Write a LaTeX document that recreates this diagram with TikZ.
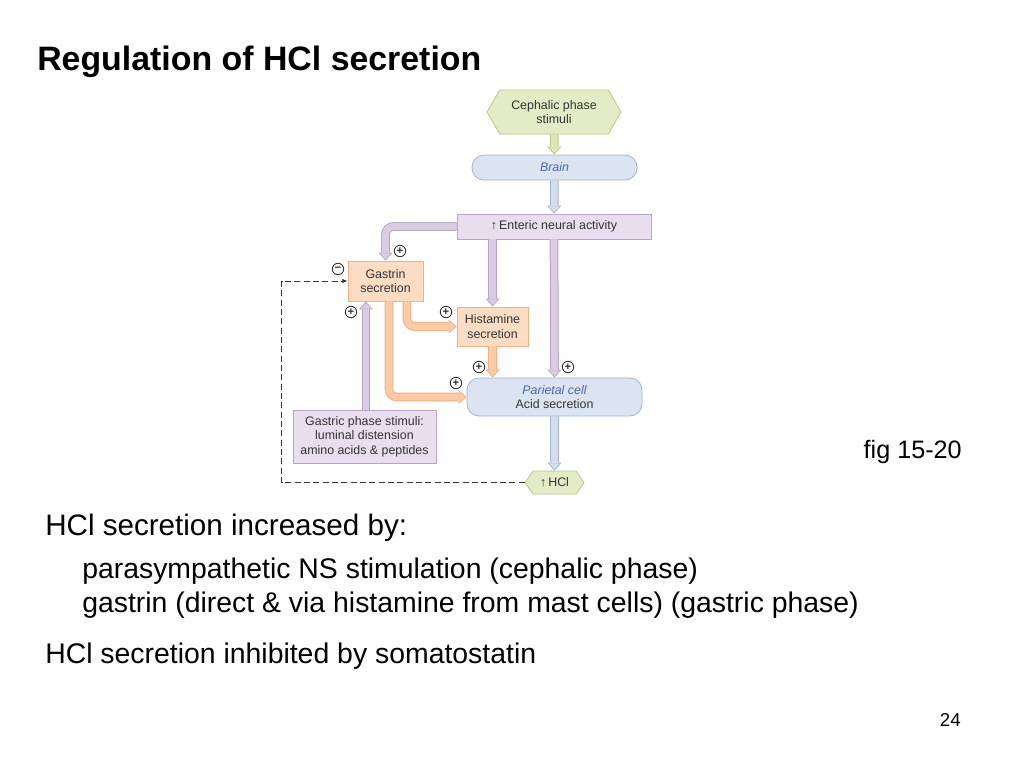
\documentclass[tikz,border=0pt]{standalone}
\usepackage{fontspec}
\setmainfont{Liberation Sans}
\usetikzlibrary{arrows.meta,shapes.symbols}

\definecolor{diagtext}{HTML}{333333}
\definecolor{celltext}{HTML}{4A67A8}
\definecolor{greenbox}{HTML}{E3ECC6}
\definecolor{greenline}{HTML}{B7CA84}
\definecolor{greenfill}{HTML}{DCE8B2}
\definecolor{bluebox}{HTML}{DDE4F1}
\definecolor{blueline}{HTML}{A3B3D1}
\definecolor{bluefill}{HTML}{D5DEEE}
\definecolor{purplebox}{HTML}{E8DEED}
\definecolor{purpleline}{HTML}{B8A5C7}
\definecolor{purplefill}{HTML}{D9CCE4}
\definecolor{orangebox}{HTML}{FCDCC2}
\definecolor{orangeline}{HTML}{F0B088}
\definecolor{orangefill}{HTML}{FCCBA6}

% thick two-tone arrow: outline pass, then fill pass
\newcommand{\fatarrow}[2]{%
  \draw[line width=6.5pt, draw=#1line, rounded corners=6pt,
        -{Triangle[width=10.5pt,length=6pt,line width=0pt]}] #2;
  \draw[line width=5pt, draw=#1fill, rounded corners=6pt, shorten >=1pt,
        -{Triangle[width=8pt,length=4.5pt,line width=0pt]}] #2;}

\begin{document}
\begin{tikzpicture}[x=0.75pt,y=-0.75pt,
  box/.style={draw=#1line, fill=#1box, line width=0.6pt, inner sep=0pt,
              align=center, text=diagtext, font=\fontsize{9.3}{11}\selectfont},
  roundbox/.style={box=#1, rounded corners=9pt},
  hexbox/.style={box=#1, signal, signal to=east and west},
  sign/.style={circle, draw=diagtext, line width=0.65pt, inner sep=0pt,
               minimum size=8.6pt, text=diagtext, font=\fontsize{8.5}{8.5}\selectfont\bfseries},
  feedback/.style={draw=diagtext, dash pattern=on 4.5pt off 2.5pt, line width=0.75pt,
                   -{Latex[length=4pt,width=3.5pt]}},
  slide/.style={inner sep=0pt, anchor=base west, font=\fontsize{21.3}{25}\selectfont}]

\fill[white] (0,0) rectangle (1024,768);
\useasboundingbox (0,0) rectangle (1024,768);

\node[anchor=base west, inner sep=0pt, font=\fontsize{25.4}{30}\selectfont\bfseries] (title) at (37,70) {Regulation of HCl secretion};

% flow chart
\node[hexbox=green, signal pointer angle=120, minimum width=100.5pt, minimum height=33pt] (ceph) at (554,112) {Cephalic phase\\stimuli};
\node[roundbox=blue, minimum width=123.75pt, minimum height=18.75pt, text=celltext] (brain) at (554.5,167.5) {\itshape Brain};
\node[box=purple, minimum width=145.5pt, minimum height=18.75pt] (enteric) at (554,226.5) {↑\,Enteric neural activity};
\node[box=orange, minimum width=56.25pt, minimum height=30pt] (gastrin) at (385.5,281) {Gastrin\\secretion};
\node[box=orange, minimum width=53.25pt, minimum height=29.25pt] (histamine) at (492.5,326.5) {Histamine\\secretion};
\node[roundbox=blue, minimum width=131.25pt, minimum height=28.5pt] (parietal) at (554.5,397) {\textcolor{celltext}{\itshape Parietal cell}\\Acid secretion};
\node[box=purple, minimum width=107.25pt, minimum height=39.75pt] (gastric) at (364.5,436.5) {Gastric phase stimuli:\\luminal distension\\amino acids \& peptides};
\node[hexbox=green, signal pointer angle=110, minimum width=44.25pt, minimum height=17.25pt] (hcl) at (554.5,482.5) {↑\,HCl};

\fatarrow{green}{(ceph) -- (brain)}
\fatarrow{blue}{(brain) -- (enteric)}
\fatarrow{purple}{(enteric.west) -| (gastrin.north)}
\fatarrow{purple}{(histamine.north |- enteric.south) -- (histamine.north)}
\fatarrow{purple}{(enteric.south) -- (parietal.north)}
\fatarrow{purple}{([xshift=1pt]gastric.north) -- ([xshift=1pt]gastric.north |- gastrin.south)}
\fatarrow{orange}{([xshift=16pt]gastrin.south) |- (histamine.west)}
\fatarrow{orange}{([xshift=2.6pt]gastrin.south) |- (parietal.west)}
\fatarrow{orange}{(histamine.south) -- (histamine.south |- parietal.north)}
\fatarrow{blue}{(parietal) -- (hcl)}

\draw[feedback] (hcl.west) -- ++(-243,0) |- (gastrin.west);

\node[sign] (s1) at (400,251) {+};
\node[sign] (s2) at (338,269) {−};
\node[sign] (s3) at (351,312) {+};
\node[sign] (s4) at (446,312) {+};
\node[sign] (s5) at (479,367) {+};
\node[sign] (s6) at (568,367) {+};
\node[sign] (s7) at (456,383) {+};

\node[anchor=base east, inner sep=0pt, font=\fontsize{18.9}{22}\selectfont] (fig) at (962,458) {fig 15-20};

% slide text
\node[slide, font=\fontsize{22.2}{26}\selectfont] (inc) at (45,535) {HCl secretion increased by:};
\node[slide] (inc1) at (82,578) {parasympathetic NS stimulation (cephalic phase)};
\node[slide] (inc2) at (82,612) {gastrin (direct \& via histamine from mast cells) (gastric phase)};
\node[slide] (inh) at (45,663) {HCl secretion inhibited by somatostatin};

\node[anchor=base east, inner sep=0pt, font=\fontsize{14}{16}\selectfont] (page) at (961,726) {24};
\end{tikzpicture}
\end{document}
